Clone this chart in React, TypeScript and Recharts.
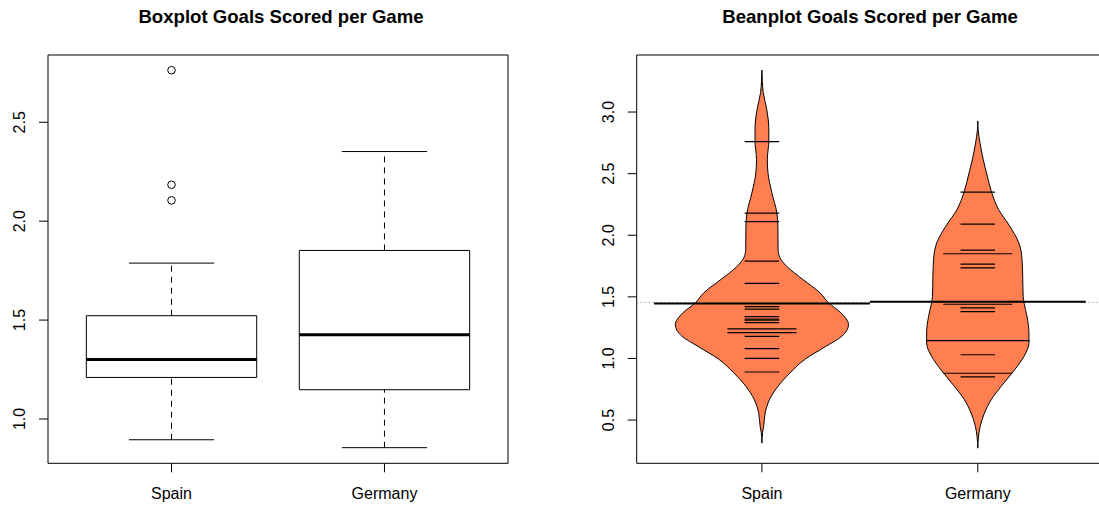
import React from "react";
import {
  ComposedChart,
  XAxis,
  YAxis,
  Area,
  Scatter,
  ReferenceLine,
  ReferenceArea,
} from "recharts";

const FONT = '"Liberation Sans", Arial, Helvetica, sans-serif';

const teams = ["Spain", "Germany"];

// boxplot numbers per team
const whiskerLow = [0.895, 0.855];
const quartile1 = [1.21, 1.148];
const medians = [1.301, 1.426];
const quartile3 = [1.522, 1.852];
const whiskerHigh = [1.788, 2.352];
const spainOutliers = [2.763, 2.184, 2.105];

// goals per game, one value per match (bean lines)
const spainGoals = [
  2.76, 2.18, 2.11, 1.79, 1.61, 1.42, 1.4, 1.34, 1.32, 1.31, 1.29, 1.24, 1.24,
  1.21, 1.21, 1.18, 1.08, 1.0, 0.89,
];
const germanyGoals = [
  2.35, 2.09, 1.88, 1.85, 1.85, 1.765, 1.735, 1.44, 1.44, 1.41, 1.38, 1.145,
  1.145, 1.145, 1.03, 0.88, 0.88, 0.85,
];

const beanMeans = [1.446, 1.46];
const overallMean = 1.455;

// bean outlines: level and half width (x units)
const spainBeanLevels = [
  0.313, 0.4, 0.448, 0.557, 0.665, 0.773, 0.882, 0.99, 1.098, 1.18, 1.275,
  1.37, 1.451, 1.533, 1.641, 1.749, 1.82, 1.885, 2.074, 2.183, 2.346, 2.508,
  2.617, 2.765, 2.862, 3.025, 3.159, 3.25, 3.34,
];
const spainBeanHalfWidth = [
  0, 0.003, 0.008, 0.015, 0.035, 0.074, 0.13, 0.197, 0.296, 0.37, 0.401,
  0.366, 0.309, 0.269, 0.19, 0.114, 0.083, 0.075, 0.074, 0.069, 0.046, 0.028,
  0.025, 0.032, 0.032, 0.022, 0.006, 0.002, 0,
];
const germanyBeanLevels = [
  0.272, 0.36, 0.448, 0.557, 0.665, 0.773, 0.909, 1.017, 1.126, 1.207, 1.342,
  1.451, 1.505, 1.667, 1.803, 1.939, 2.074, 2.21, 2.354, 2.48, 2.616, 2.752,
  2.85, 2.928,
];
const germanyBeanHalfWidth = [
  0, 0.003, 0.011, 0.031, 0.062, 0.108, 0.171, 0.214, 0.237, 0.237, 0.228,
  0.214, 0.21, 0.208, 0.205, 0.19, 0.148, 0.096, 0.063, 0.044, 0.025, 0.01,
  0.002, 0,
];

const boxTicks = [1.0, 1.5, 2.0, 2.5];
const beanTicks = [0.5, 1.0, 1.5, 2.0, 2.5, 3.0];

const X_DOMAIN: [number, number] = [0.42, 2.58];
const BOX_Y: [number, number] = [0.776, 2.84];
const BEAN_Y: [number, number] = [0.149, 3.463];
const BEAN_FILL = "#FF7F50";

const spainBean = spainBeanLevels.map((y, i) => ({
  y,
  range: [1 - spainBeanHalfWidth[i], 1 + spainBeanHalfWidth[i]],
}));
const germanyBean = germanyBeanLevels.map((y, i) => ({
  y,
  range: [2 - germanyBeanHalfWidth[i], 2 + germanyBeanHalfWidth[i]],
}));

// duplicates get a longer line
function countValues(values: number[]) {
  const m = new Map<number, number>();
  values.forEach((v) => m.set(v, (m.get(v) ?? 0) + 1));
  return [...m.entries()];
}

const beanLines = [countValues(spainGoals), countValues(germanyGoals)];

function RotatedTick(props: any) {
  const { x, y, payload } = props;
  const bx = x - 13.5;
  return (
    <text
      x={bx}
      y={y}
      transform={`rotate(-90 ${bx} ${y})`}
      textAnchor="middle"
      fontSize={16}
      fill="#000"
      fontFamily={FONT}
    >
      {Number(payload.value).toFixed(1)}
    </text>
  );
}

function OpenCircle(props: any) {
  return (
    <circle cx={props.cx} cy={props.cy} r={3.8} fill="none" stroke="#000" strokeWidth={1} />
  );
}

const tickStyle = { fontSize: 16, fill: "#000", fontFamily: FONT };

function BoxPanel() {
  return (
    <ComposedChart
      width={520}
      height={507}
      margin={{ top: 55, right: 12, bottom: 0, left: 0 }}
    >
      <XAxis
        type="number"
        dataKey="x"
        domain={X_DOMAIN}
        ticks={[1, 2]}
        interval={0}
        allowDataOverflow
        tickFormatter={(v: number) => teams[v - 1]}
        axisLine={false}
        tickLine={{ stroke: "#000" }}
        tickSize={9}
        tickMargin={15}
        height={43.7}
        tick={tickStyle}
      />
      <YAxis
        type="number"
        dataKey="y"
        domain={BOX_Y}
        ticks={boxTicks}
        interval={0}
        allowDataOverflow
        axisLine={false}
        tickLine={{ stroke: "#000" }}
        tickSize={9}
        tickMargin={0}
        width={48}
        tick={<RotatedTick />}
      />
      <ReferenceArea
        x1={X_DOMAIN[0]}
        x2={X_DOMAIN[1]}
        y1={BOX_Y[0]}
        y2={BOX_Y[1]}
        fill="none"
        stroke="#000"
        ifOverflow="visible"
      />
      {teams.map((t, i) => {
        const c = i + 1;
        return (
          <React.Fragment key={t}>
            <ReferenceLine
              segment={[{ x: c, y: whiskerLow[i] }, { x: c, y: quartile1[i] }]}
              stroke="#000"
              strokeDasharray="6 5"
            />
            <ReferenceLine
              segment={[{ x: c, y: quartile3[i] }, { x: c, y: whiskerHigh[i] }]}
              stroke="#000"
              strokeDasharray="6 5"
            />
            <ReferenceLine
              segment={[{ x: c - 0.2, y: whiskerLow[i] }, { x: c + 0.2, y: whiskerLow[i] }]}
              stroke="#000"
            />
            <ReferenceLine
              segment={[{ x: c - 0.2, y: whiskerHigh[i] }, { x: c + 0.2, y: whiskerHigh[i] }]}
              stroke="#000"
            />
            <ReferenceArea
              x1={c - 0.4}
              x2={c + 0.4}
              y1={quartile1[i]}
              y2={quartile3[i]}
              fill="#fff"
              fillOpacity={1}
              stroke="#000"
              strokeWidth={1}
            />
            <ReferenceLine
              segment={[{ x: c - 0.4, y: medians[i] }, { x: c + 0.4, y: medians[i] }]}
              stroke="#000"
              strokeWidth={3}
            />
          </React.Fragment>
        );
      })}
      <Scatter
        data={spainOutliers.map((v) => ({ x: 1, y: v }))}
        dataKey="y"
        shape={<OpenCircle />}
        isAnimationActive={false}
      />
    </ComposedChart>
  );
}

function BeanPanel() {
  return (
    <ComposedChart
      layout="vertical"
      width={520}
      height={507}
      margin={{ top: 55, right: 5, bottom: 0, left: 0 }}
    >
      <XAxis
        type="number"
        domain={X_DOMAIN}
        ticks={[1, 2]}
        interval={0}
        allowDataOverflow
        tickFormatter={(v: number) => teams[v - 1]}
        axisLine={false}
        tickLine={{ stroke: "#000" }}
        tickSize={9}
        tickMargin={15}
        height={43.7}
        tick={tickStyle}
      />
      <YAxis
        type="number"
        dataKey="y"
        domain={BEAN_Y}
        ticks={beanTicks}
        interval={0}
        allowDataOverflow
        reversed
        axisLine={false}
        tickLine={{ stroke: "#000" }}
        tickSize={9}
        tickMargin={0}
        width={48.7}
        tick={<RotatedTick />}
      />
      <ReferenceLine
        y={overallMean}
        stroke="#777"
        strokeDasharray="1 3"
      />
      <Area
        data={spainBean}
        dataKey="range"
        type="monotone"
        fill={BEAN_FILL}
        fillOpacity={1}
        stroke="#000"
        strokeWidth={1}
        isAnimationActive={false}
        activeDot={false}
      />
      <Area
        data={germanyBean}
        dataKey="range"
        type="monotone"
        fill={BEAN_FILL}
        fillOpacity={1}
        stroke="#000"
        strokeWidth={1}
        isAnimationActive={false}
        activeDot={false}
      />
      {beanLines.map((lines, i) =>
        lines.map(([v, n]) => (
          <ReferenceLine
            key={`${i}-${v}`}
            segment={[{ x: i + 1 - 0.08 * n, y: v }, { x: i + 1 + 0.08 * n, y: v }]}
            stroke="#000"
            strokeWidth={1.2}
          />
        ))
      )}
      {beanMeans.map((m, i) => (
        <ReferenceLine
          key={`mean-${i}`}
          segment={[{ x: i + 0.5, y: m }, { x: i + 1.5, y: m }]}
          stroke="#000"
          strokeWidth={2}
        />
      ))}
      <ReferenceArea
        x1={X_DOMAIN[0]}
        x2={X_DOMAIN[1]}
        y1={BEAN_Y[0]}
        y2={BEAN_Y[1]}
        fill="none"
        stroke="#000"
        ifOverflow="visible"
      />
    </ComposedChart>
  );
}

export default function App() {
  return (
    <div
      style={{
        position: "absolute",
        left: 0,
        top: 0,
        width: 1099,
        height: 507,
        overflow: "hidden",
        background: "#fff",
      }}
    >
      <div style={{ position: "absolute", left: 0, top: 0 }}>
        <BoxPanel />
      </div>
      <div style={{ position: "absolute", left: 588, top: 0 }}>
        <BeanPanel />
      </div>
      <svg
        width={1099}
        height={40}
        style={{ position: "absolute", left: 0, top: 0 }}
      >
        <text x={281} y={23.3} textAnchor="middle" fontSize={18.6} fontWeight="bold" fontFamily={FONT}>
          Boxplot Goals Scored per Game
        </text>
        <text x={870} y={23.3} textAnchor="middle" fontSize={18.6} fontWeight="bold" fontFamily={FONT}>
          Beanplot Goals Scored per Game
        </text>
      </svg>
    </div>
  );
}
